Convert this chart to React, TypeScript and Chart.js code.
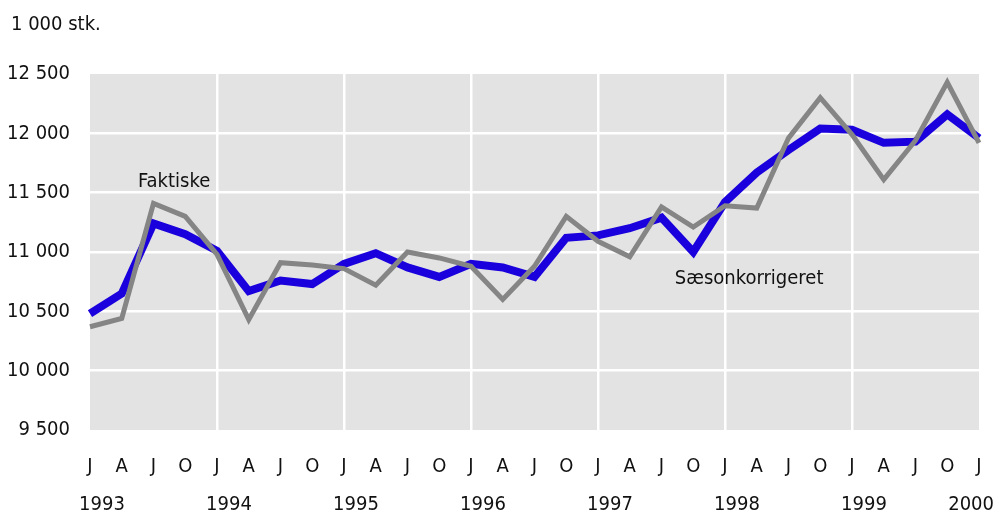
import React, { useEffect, useRef } from "react";
import { Chart, registerables } from "chart.js";

Chart.register(...registerables);

const quarterLabels = [
  "J", "A", "J", "O", "J", "A", "J", "O", "J", "A", "J", "O", "J", "A", "J", "O",
  "J", "A", "J", "O", "J", "A", "J", "O", "J", "A", "J", "O", "J",
];
const years = ["1993", "1994", "1995", "1996", "1997", "1998", "1999", "2000"];

const faktiske = [
  10370, 10440, 11410, 11300, 10980, 10430, 10910, 10890, 10860, 10720, 11000, 10950,
  10880, 10600, 10880, 11300, 11090, 10960, 11380, 11210, 11390, 11370, 11960, 12300,
  11990, 11610, 11940, 12430, 11920,
];
const saesonkorrigeret = [
  10480, 10650, 11240, 11150, 11010, 10670, 10760, 10730, 10900, 10990, 10870, 10790,
  10900, 10870, 10790, 11120, 11140, 11200, 11290, 11000, 11420, 11670, 11860, 12040,
  12030, 11920, 11930, 12160, 11960,
];
const yTicks = [9500, 10000, 10500, 11000, 11500, 12000, 12500];
const unitLabel = "1 000 stk.";
const annotations = [
  { text: "Faktiske", x: 2.65, y: 11590 },
  { text: "Sæsonkorrigeret", x: 20.76, y: 10770 },
];

const FONT = '"Liberation Sans Narrow", "Arial Narrow", "DejaVu Sans Condensed", sans-serif';

const fmt = (v: number) => {
  const s = String(Math.round(v));
  return s.replace(/\B(?=(\d{3})+(?!\d))/g, " ");
};

export default function App() {
  const ref = useRef<HTMLCanvasElement | null>(null);

  useEffect(() => {
    if (!ref.current) return;
    const bgPlugin = {
      id: "bg",
      beforeDraw(chart: any) {
        const { ctx, chartArea } = chart;
        ctx.save();
        ctx.fillStyle = "#e3e3e3";
        ctx.fillRect(chartArea.left, chartArea.top, chartArea.right - chartArea.left, chartArea.bottom - chartArea.top);
        ctx.restore();
      },
    };
    const textPlugin = {
      id: "texts",
      afterDraw(chart: any) {
        const { ctx } = chart;
        const xs = chart.scales.x;
        const ys = chart.scales.y;
        ctx.save();
        ctx.fillStyle = "#111";
        ctx.font = `20px ${FONT}`;
        ctx.textBaseline = "middle";
        ctx.textAlign = "left";
        ctx.fillText(unitLabel, 11, 25);
        ctx.textAlign = "center";
        annotations.forEach((a) => {
          ctx.fillText(a.text, xs.getPixelForValue(a.x), ys.getPixelForValue(a.y));
        });
        years.forEach((yr, i) => {
          const w = ctx.measureText(yr).width;
          let x = xs.getPixelForValue(i * 4) + 12;
          x = Math.min(x, chart.width - 3 - w / 2);
          ctx.fillText(yr, x, 505);
        });
        ctx.restore();
      },
    };
    const chart = new Chart(ref.current, {
      type: "line",
      data: {
        labels: quarterLabels,
        datasets: [
          {
            label: "Faktiske",
            data: faktiske,
            borderColor: "#858585",
            borderWidth: 5,
            pointRadius: 0,
            tension: 0,
            fill: false,
          },
          {
            label: "Sæsonkorrigeret",
            data: saesonkorrigeret,
            borderColor: "#1a00dd",
            borderWidth: 8,
            pointRadius: 0,
            tension: 0,
            fill: false,
          },
        ],
      },
      options: {
        animation: false,
        responsive: false,
        maintainAspectRatio: false,
        layout: { padding: { left: 0, right: 18, top: 74, bottom: 0 } },
        plugins: { legend: { display: false }, tooltip: { enabled: false } },
        scales: {
          x: {
            type: "category",
            offset: false,
            border: { display: false },
            grid: {
              drawTicks: false,
              lineWidth: 2.5,
              color: (c: any) => (c.index % 4 === 0 && c.index !== 0 && c.index !== 28 ? "#ffffff" : "rgba(0,0,0,0)"),
            },
            ticks: {
              autoSkip: false,
              maxRotation: 0,
              padding: 25,
              color: "#111",
              font: { family: FONT, size: 20 },
            },
            afterFit: (s: any) => {
              s.height = 86;
              s.paddingLeft = 0;
              s.paddingRight = 0;
            },
          },
          y: {
            min: 9500,
            max: 12500,
            border: { display: false },
            grid: {
              drawTicks: false,
              lineWidth: 2.5,
              color: (c: any) => (c.tick && (c.tick.value === 9500 || c.tick.value === 12500) ? "rgba(0,0,0,0)" : "#ffffff"),
            },
            afterBuildTicks: (s: any) => {
              s.ticks = yTicks.map((v) => ({ value: v }));
            },
            ticks: {
              padding: 20,
              color: "#111",
              font: { family: FONT, size: 20 },
              callback: (v: any) => fmt(Number(v)),
            },
            afterFit: (s: any) => {
              s.width = 90;
              s.paddingTop = 0;
              s.paddingBottom = 0;
            },
          },
        },
      },
      plugins: [bgPlugin, textPlugin],
    });
    return () => chart.destroy();
  }, []);

  return (
    <div style={{ position: "fixed", left: 0, top: 0, width: 997, height: 516, background: "#fff" }}>
      <canvas ref={ref} width={997} height={516} style={{ width: 997, height: 516, display: "block" }} />
    </div>
  );
}
